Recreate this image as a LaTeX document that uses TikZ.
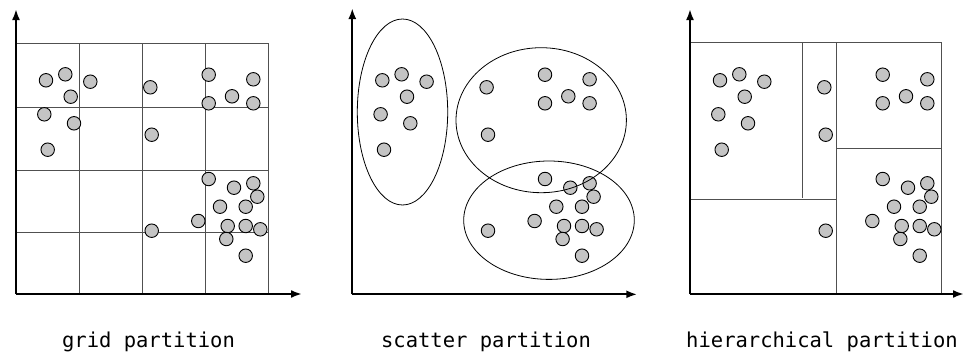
\documentclass[tikz,border=0pt]{standalone}
\usepackage{fontspec}
\setmonofont{DejaVu Sans Mono}
\usetikzlibrary{arrows.meta}
\definecolor{dotgray}{RGB}{196,196,196}
\definecolor{gridgray}{RGB}{80,80,80}
\begin{document}
\begin{tikzpicture}[x=1pt,y=-1pt,
  dot/.style={circle,draw=black,fill=dotgray,line width=0.9pt,minimum size=13.5pt,inner sep=0pt},
  axis/.style={line width=2.2pt,-{Latex[length=11pt,width=8pt]}},
  gridline/.style={draw=gridgray,line width=1pt},
  part/.style={draw=black,line width=0.8pt},
  caption/.style={font=\ttfamily\fontsize{20.5}{24}\selectfont,anchor=base,inner sep=0pt}]
\useasboundingbox (0,0) rectangle (963,356);
\def\dotlist{46/80.3, 65.3/74.3, 90.3/81.7, 70.7/96.7, 44.3/114.3, 74/123.3, 47.7/149.7,
  150.3/87.3, 151.7/134.7, 208.7/74.7, 253.3/79.3, 232/96.3, 208.7/103.3, 253.3/103.3,
  208.7/179, 234/187.7, 253.3/183.3, 257.3/196.7, 220/206.7, 245.7/206.7, 198.3/221,
  227.7/226, 245.7/226, 260.3/229.3, 151.7/230.7, 226.3/239, 245.7/255.7}

% ---------- panel 1: grid partition ----------
\begin{scope}
  \foreach \gx [count=\i] in {16,79,142,205,268} {
    \coordinate (g1t\i) at (\gx,43);
    \coordinate (g1b\i) at (\gx,294);
    \draw[gridline] (g1t\i) -- (g1b\i);
  }
  \foreach \gy [count=\i] in {43,107,170,232} {
    \coordinate (g1l\i) at (16,\gy);
    \coordinate (g1r\i) at (268,\gy);
    \draw[gridline] (g1l\i) -- (g1r\i);
  }
  \foreach \px/\py [count=\i] in \dotlist { \node[dot] (a\i) at (\px,\py) {}; }
  \coordinate (o1) at (16,294);
  \coordinate (y1) at (16,9);
  \coordinate (x1) at (302,294);
  \draw[axis] (o1) -- (y1);
  \draw[axis] (o1) -- (x1);
  \node[caption] (c1) at (148.5,347.3) {grid partition};
\end{scope}

% ---------- panel 2: scatter partition ----------
\begin{scope}[shift={(336.3,0)}]
  \foreach \px/\py [count=\i] in \dotlist { \node[dot] (b\i) at (\px,\py) {}; }
  \draw[part] (66.2,112) ellipse [x radius=45.2, y radius=93];
  \draw[part] (204.9,120.2) ellipse [x radius=85.2, y radius=72.5];
  \draw[part] (212.7,220.2) ellipse [x radius=85.3, y radius=59.2];
  \coordinate (o2) at (16,294.3);
  \coordinate (y2) at (16,8);
  \coordinate (x2) at (301,294.3);
  \draw[axis] (o2) -- (y2);
  \draw[axis] (o2) -- (x2);
\end{scope}
\node[caption] (c2) at (486,347.3) {scatter partition};

% ---------- panel 3: hierarchical partition ----------
\begin{scope}[shift={(674,0)}]
  \coordinate (h1) at (16,42.7);
  \coordinate (h2) at (267,42.7);
  \coordinate (h3) at (267,293.3);
  \coordinate (h4) at (16,293.3);
  \draw[gridline] (h4) -- (h1) -- (h2) -- (h3);
  \coordinate (v1t) at (128,42.7);
  \coordinate (v1b) at (128,198.3);
  \draw[gridline] (v1t) -- (v1b);
  \coordinate (hl1) at (16,199.3);
  \coordinate (hr1) at (162.3,199.3);
  \draw[gridline] (hl1) -- (hr1);
  \coordinate (v2t) at (162.3,42.7);
  \coordinate (v2b) at (162.3,293.3);
  \draw[gridline] (v2t) -- (v2b);
  \coordinate (hl2) at (162.3,148.3);
  \coordinate (hr2) at (267,148.3);
  \draw[gridline] (hl2) -- (hr2);
  \foreach \px/\py [count=\i] in \dotlist { \node[dot] (e\i) at (\px,\py) {}; }
  \coordinate (o3) at (16,294);
  \coordinate (y3) at (16,9);
  \coordinate (x3) at (290,294);
  \draw[axis] (o3) -- (y3);
  \draw[axis] (o3) -- (x3);
\end{scope}
\node[caption] (c3) at (822,347.3) {hierarchical partition};
\end{tikzpicture}
\end{document}
